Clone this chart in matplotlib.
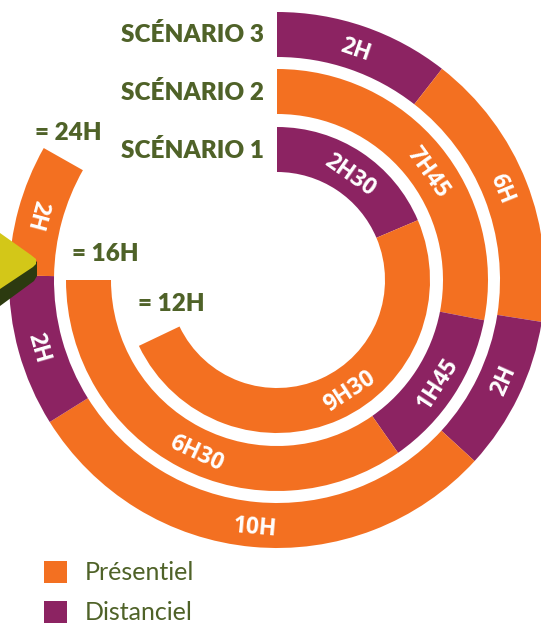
import numpy as np
import matplotlib
matplotlib.use("Agg")
import matplotlib.pyplot as plt
from matplotlib.patches import Polygon, Rectangle

# ---------------- data ----------------
scenarios = ["SCÉNARIO 1", "SCÉNARIO 2", "SCÉNARIO 3"]
totals = ["= 12H", "= 16H", "= 24H"]

s1_labels = ["2H30", "9H30"]
s1_modes = ["Distanciel", "Présentiel"]
s1_bounds = [0, 67, 244.5]          # arc boundaries (deg, clockwise from top)

s2_labels = ["7H45", "1H45", "6H30"]
s2_modes = ["Présentiel", "Distanciel", "Présentiel"]
s2_bounds = [0, 101, 145, 270]

s3_labels = ["2H", "6H", "2H", "10H", "2H", "2H"]
s3_modes = ["Distanciel", "Présentiel", "Distanciel", "Présentiel", "Distanciel", "Présentiel"]
s3_bounds = [0, 38, 99, 132.5, 238, 271, 299.5]

legend_labels = ["Présentiel", "Distanciel"]

# ---------------- style ----------------
W, H = 541, 628
DPI = 100
COLORS = {"Présentiel": "#F37021", "Distanciel": "#8C2362"}
GREEN = "#4F6228"
FONT = "Lato"
SEG_FONT = "Open Sans"
CX, CY = 277, 280          # centre in pixels (from top-left)
RMAX = 280
rings = [(108, 153), (166, 211), (223, 268)]
label_angles = [[35, 147], [54.5, 123, 205], [19, 68, 114, 185, 254, 285]]

fig = plt.figure(figsize=(W / DPI, H / DPI), dpi=DPI)
fig.patch.set_facecolor("white")

# polar axes positioned so that its centre falls at (CX, CY)
ax = fig.add_axes([(CX - RMAX) / W, (H - CY - RMAX) / H, 2 * RMAX / W, 2 * RMAX / H],
                  projection="polar")
ax.set_theta_zero_location("N")
ax.set_theta_direction(-1)
ax.set_ylim(0, RMAX)
ax.axis("off")

all_rings = [(s1_labels, s1_modes, s1_bounds), (s2_labels, s2_modes, s2_bounds),
             (s3_labels, s3_modes, s3_bounds)]

for i, (labels, modes, bounds) in enumerate(all_rings):
    r0, r1 = rings[i]
    b = np.array(bounds, dtype=float)
    starts, ends = b[:-1], b[1:]
    mids = (starts + ends) / 2
    widths = ends - starts
    ax.bar(np.deg2rad(mids), r1 - r0, width=np.deg2rad(widths), bottom=r0,
           color=[COLORS[m] for m in modes], edgecolor="none", linewidth=0)
    rm = (r0 + r1) / 2
    for lab, a in zip(labels, label_angles[i]):
        rot = 180 - a if 90 < a < 300 else -a
        ax.text(np.deg2rad(a), rm, lab, rotation=rot, rotation_mode="anchor",
                ha="center", va="center_baseline", color="white", fontsize=16.5,
                fontweight="bold", family=SEG_FONT)

# decorative 3D button on the left edge (in pixel coordinates)
def px(pts):
    return [(x / W, 1 - y / H) for x, y in pts]

shadow = Polygon(px([(0, 288), (33, 266), (37, 261), (37, 276), (34, 281), (0, 306)]),
                 closed=True, transform=fig.transFigure, facecolor="#2C3A10",
                 edgecolor="none", zorder=5)
face = Polygon(px([(0, 233), (31, 255), (36, 259), (36, 264), (33, 267), (0, 289)]),
               closed=True, transform=fig.transFigure, facecolor="#D3C718",
               edgecolor="none", zorder=6)
fig.patches.extend([shadow, face])

# scenario titles
title_y = [150, 92, 35]
for name, y in zip(scenarios, title_y):
    fig.text(264 / W, 1 - y / H, name, ha="right", va="center", color=GREEN,
             fontsize=17.5, fontweight="heavy", family=FONT)

# totals
total_pos = [(138, 304), (72, 254), (35, 133)]
for t, (x, y) in zip(totals, total_pos):
    fig.text(x / W, 1 - y / H, t, ha="left", va="center", color=GREEN,
             fontsize=17.5, fontweight="heavy", family=FONT)

# legend
leg_y = [572, 612]
for lab, y in zip(legend_labels, leg_y):
    fig.patches.append(Rectangle(((44) / W, 1 - (y + 11) / H), 23 / W, 22 / H,
                                 transform=fig.transFigure, facecolor=COLORS[lab],
                                 edgecolor="none"))
    fig.text(85 / W, 1 - y / H, lab, ha="left", va="center", color=GREEN,
             fontsize=18, family=FONT)

fig.savefig("out.png", dpi=DPI)
